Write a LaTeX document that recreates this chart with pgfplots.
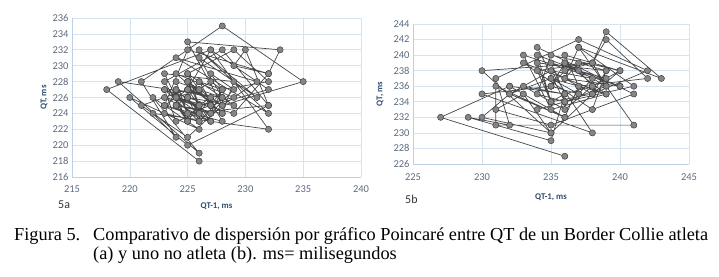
\documentclass[border=0pt]{standalone}
\usepackage{pgfplots}
\pgfplotsset{compat=1.18}
\usepackage{fontspec}
\setmainfont{Carlito}
\newfontfamily\capfont{Liberation Serif}
\definecolor{gridc}{HTML}{D6E3F0}
\definecolor{axc}{HTML}{BDD0E5}
\definecolor{tickc}{HTML}{5B6B80}
\definecolor{labc}{HTML}{2F4A6E}
\definecolor{linec}{HTML}{474747}
\definecolor{markf}{HTML}{858585}
\definecolor{markd}{HTML}{404040}
\pgfplotsset{
  poinc/.style={
    scale only axis, clip=false,
    grid=major, grid style={gridc, line width=0.6pt},
    axis x line*=bottom, axis y line*=left,
    axis line style={-, axc, line width=0.9pt},
    tick style={draw=none},
    ticklabel style={font=\fontsize{10.5}{12}\selectfont, text=tickc},
    /pgf/number format/assume math mode=true,
    /pgf/number format/set thousands separator={},
    xlabel={QT-1, ms}, ylabel={QT, ms},
    label style={font=\bfseries\fontsize{8.8}{10}\selectfont, text=labc},
  },
  serie/.style={linec, line width=0.7pt, mark=*, mark size=3.1pt,
    mark options={fill=markf, draw=markd, line width=0.5pt}},
}
\begin{document}
\begin{tikzpicture}
\path[use as bounding box] (0,0) rectangle (719pt,276pt);
% ---------------- 5a ----------------
\begin{axis}[poinc, at={(72pt,99pt)}, anchor=south west,
  width=289pt, height=159pt,
  xmin=215, xmax=240, ymin=216, ymax=236,
  xtick={215,220,...,240}, ytick={216,218,...,236},
  xticklabel style={yshift=-5pt},
  xlabel style={yshift=-3pt}, ylabel style={yshift=-2pt}]
\addplot[serie] coordinates {
(226,218) (218,227) (227,232) (232,222) (222,224) (224,221) (221,228) (228,235)
(235,228) (228,225) (225,233) (233,232) (232,229) (229,230) (230,232) (232,225)
(225,220) (220,226) (226,222) (222,226) (226,219) (219,228) (228,226) (226,231)
(231,226) (226,232) (232,224) (224,231) (231,228) (228,225) (225,221) (221,225)
(225,227) (227,232) (232,227) (227,225) (225,226) (226,224) (224,226) (226,227)
(227,225) (225,224) (224,227) (227,223) (223,226) (226,225) (225,228) (228,224)
(224,225) (225,226) (226,228) (228,223) (223,225) (225,227) (227,226) (226,224)
(224,223) (223,227) (227,225) (225,229) (229,225) (225,226) (226,228) (228,227)
(227,224) (224,226) (226,225) (225,223) (223,228) (228,232) (232,225) (225,224)
(224,228) (228,226) (226,223) (223,224) (224,227) (227,226) (226,225) (225,228)
(228,225) (225,227) (227,223) (223,225) (225,232) (232,229) (229,224) (224,226)
(226,227) (227,228) (228,227) (227,225) (225,226) (226,223) (223,227) (227,224)
(224,225) (225,223) (223,229) (229,228) (228,224) (224,229) (229,226) (226,225)
(225,229) (229,232) (232,228) (228,227) (227,229) (229,227) (227,224)
};
\end{axis}
% ---------------- 5b ----------------
\begin{axis}[poinc, at={(413pt,112pt)}, anchor=south west,
  width=276pt, height=140pt,
  xmin=225, xmax=245, ymin=226, ymax=244,
  xtick={225,230,...,245}, ytick={226,228,...,244},
  xticklabel style={yshift=-6pt},
  xlabel style={yshift=-6pt}, ylabel style={yshift=3pt}]
\addplot[serie] coordinates {
(236,227) (227,232) (232,236) (236,235) (235,229) (229,232) (232,231) (231,237)
(237,242) (242,238) (238,235) (235,230) (230,238) (238,239) (239,243) (243,237)
(237,241) (241,236) (236,234) (234,241) (241,235) (235,231) (231,233) (233,235)
(235,230) (230,232) (232,235) (235,238) (238,230) (230,235) (235,236) (236,238)
(238,239) (239,242) (242,237) (237,236) (236,232) (232,236) (236,235) (235,234)
(234,240) (240,236) (236,237) (237,239) (239,238) (238,233) (233,239) (239,235)
(235,237) (237,235) (235,236) (236,239) (239,236) (236,234) (234,235) (235,240)
(240,238) (238,236) (236,235) (235,239) (239,237) (237,238) (238,236) (236,233)
(233,236) (236,235) (235,234) (234,239) (239,238) (238,235) (235,238) (238,237)
(237,235) (235,236) (236,239) (239,235) (235,233) (233,240) (240,236) (236,237)
(237,241) (241,231) (231,231) (231,236) (236,232) (232,235) (235,237) (237,236)
(236,240) (240,238) (238,235) (235,234) (234,238) (238,239) (239,236) (236,234)
(234,233)
};
\end{axis}
% labels and caption
\node[anchor=base west, inner sep=0pt, font=\fontsize{12}{14}\selectfont, text=black!80] at (58pt,68pt) {5a};
\node[anchor=base west, inner sep=0pt, font=\fontsize{12}{14}\selectfont, text=black!80] at (405pt,73pt) {5b};
\node[anchor=base west, inner sep=0pt, font=\capfont\fontsize{18.3}{19}\selectfont] at (14pt,35.3pt) {Figura 5.};
\node[anchor=base west, inner sep=0pt, font=\capfont\fontsize{18.3}{19}\selectfont] at (93pt,35.3pt) {Comparativo de dispersión por gráfico Poincaré entre QT de un Border Collie atleta};
\node[anchor=base west, inner sep=0pt, font=\capfont\fontsize{18.3}{19}\selectfont] at (93pt,16.7pt) {(a) y uno no atleta (b). ms= milisegundos};
\end{tikzpicture}
\end{document}
